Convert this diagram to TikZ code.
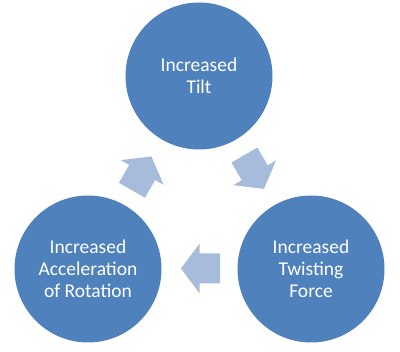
\documentclass[tikz,border=0pt]{standalone}
\usepackage{fontspec}
\setmainfont{Carlito}
\definecolor{circblue}{RGB}{79,129,189}
\definecolor{arrowblue}{RGB}{167,188,219}
\tikzset{
  cyclenode/.style={circle, fill=circblue, draw=none, minimum size=147pt, inner sep=0pt,
    text=white, align=center, font=\fontsize{19.5}{21.7}\selectfont},
  cyclearrow/.pic={\fill[arrowblue] (18.5,0) -- (0,24.75) -- (0,15) -- (-20.5,15) -- (-20.5,-15) -- (0,-15) -- (0,-24.75) -- cycle;}
}
\begin{document}
\begin{tikzpicture}[x=1pt,y=-1pt]
\useasboundingbox (0,0) rectangle (400,352);
\fill[white] (0,0) rectangle (400,352);
\node[cyclenode] (tilt) at (199,76) {Increased\\Tilt};
\node[cyclenode] (force) at (311,269) {Increased\\Twisting\\Force};
\node[cyclenode] (accel) at (88,269) {Increased\\Acceleration\\of Rotation};
\pic[rotate=-60] at (254.7,172.8) {cyclearrow};
\pic[rotate=180] at (199.5,268.5) {cyclearrow};
\pic[rotate=60] at (142.2,172.5) {cyclearrow};
\end{tikzpicture}
\end{document}
